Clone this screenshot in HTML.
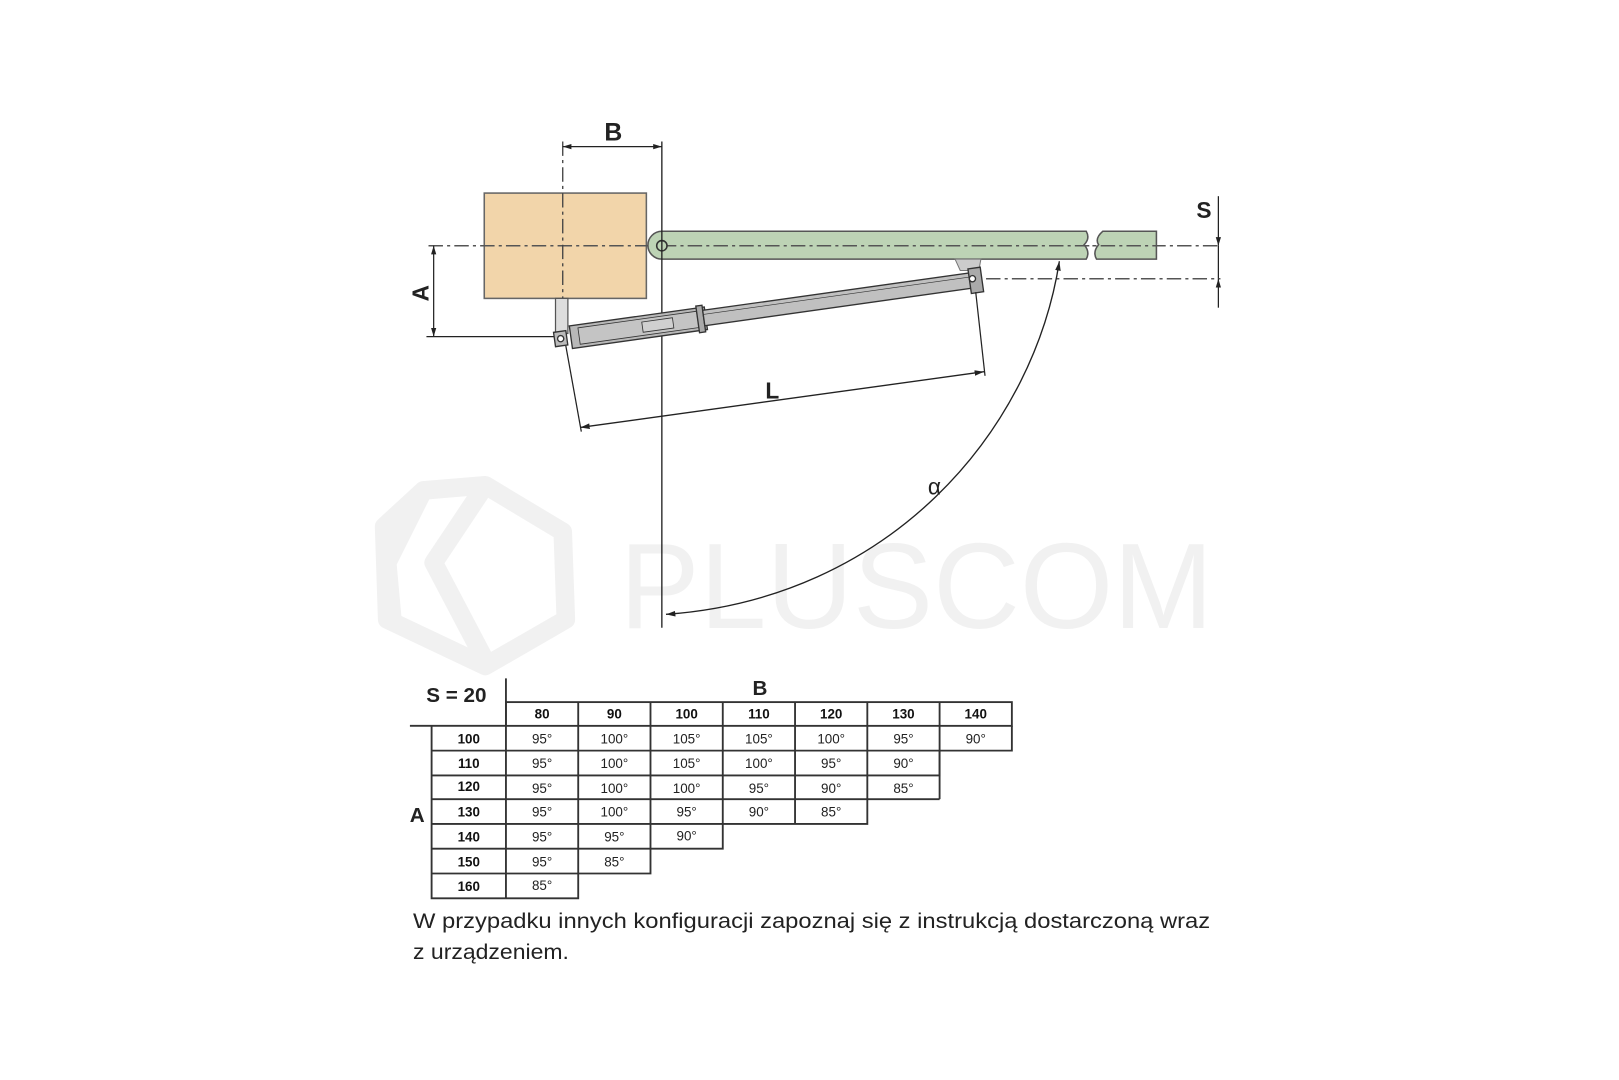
<!DOCTYPE html>
<html><head><meta charset="utf-8"><style>
html,body{margin:0;padding:0;background:#fff;width:1619px;height:1080px;overflow:hidden}
svg{display:block}
text{font-family:"Liberation Sans Narrow","Liberation Sans",sans-serif}
</style></head><body>
<svg width="1619" height="1080" viewBox="0 0 1568 1046" xmlns="http://www.w3.org/2000/svg">
<defs>
<marker id="ar" viewBox="0 0 10 10" refX="10" refY="5" markerWidth="7" markerHeight="7" orient="auto-start-reverse"><path d="M0,2 L10,5 L0,8 z" fill="#222"/></marker>
</defs>
<!-- watermark -->
<g fill="none" stroke="#f1f1f1" stroke-width="18" stroke-linejoin="round">
<path d="M410,475 L470,470 L545,515 L548,600 L470,645 L375,600 L372,510 Z"/>
<path d="M410,475 L375,545 L380,600"/>
<path d="M470,470 L420,545 L470,640"/>
</g>
<text x="600" y="608" font-size="118" fill="#f1f1f1" font-family="Liberation Sans" textLength="575" lengthAdjust="spacingAndGlyphs">PLUSCOM</text>

<!-- box -->
<rect x="469" y="187" width="157" height="102" fill="#f2d5aa" stroke="#666" stroke-width="1.5"/>
<!-- centerlines -->
<line x1="415" y1="238" x2="1180" y2="238" stroke="#555" stroke-width="1.5" stroke-dasharray="14,4,3,4"/>
<line x1="545" y1="137" x2="545" y2="322" stroke="#444" stroke-width="1.3" stroke-dasharray="14,4,3,4"/>
<line x1="955" y1="270" x2="1182" y2="270" stroke="#555" stroke-width="1.5" stroke-dasharray="14,4,3,4"/>
<!-- green leaf -->
<path d="M641,224 L1052,224 Q1056,231 1050,237 Q1056,244 1052,251 L641,251 A13.5,13.5 0 0 1 641,224 Z" fill="#bdd3b5" stroke="#555" stroke-width="1.5"/>
<path d="M1068,224 L1120,224 L1120,251 L1062,251 Q1058,244 1064,237 Q1060,231 1068,224 Z" fill="#bdd3b5" stroke="#555" stroke-width="1.5"/>
<line x1="641" y1="238" x2="1120" y2="238" stroke="#555" stroke-width="1.5" stroke-dasharray="14,4,3,4"/>
<circle cx="641" cy="238" r="5" fill="#bdd3b5" stroke="#333" stroke-width="1.5"/>
<!-- B dimension -->
<line x1="641" y1="137" x2="641" y2="608" stroke="#222" stroke-width="1.3"/>
<line x1="545" y1="142" x2="641" y2="142" stroke="#222" stroke-width="1.2" marker-start="url(#ar)" marker-end="url(#ar)"/>
<text x="594" y="136" font-size="24" font-weight="bold" text-anchor="middle" fill="#222">B</text>
<!-- S dimension -->
<line x1="1180" y1="190" x2="1180" y2="238" stroke="#222" stroke-width="1.2" marker-end="url(#ar)"/>
<line x1="1180" y1="298" x2="1180" y2="270" stroke="#222" stroke-width="1.2" marker-end="url(#ar)"/>
<line x1="1180" y1="238" x2="1180" y2="270" stroke="#222" stroke-width="1.2"/>
<text x="1166" y="211" font-size="22" font-weight="bold" text-anchor="middle" fill="#222">S</text>
<!-- A dimension -->
<line x1="420" y1="238" x2="420" y2="326" stroke="#222" stroke-width="1.2" marker-start="url(#ar)" marker-end="url(#ar)"/>
<line x1="413" y1="326" x2="540" y2="326" stroke="#222" stroke-width="1.2"/>
<text x="0" y="0" font-size="22" font-weight="bold" text-anchor="middle" fill="#222" transform="translate(415,284) rotate(-90)">A</text>
<!-- bracket -->
<rect x="538" y="289" width="12" height="34" fill="#ddd" stroke="#555" stroke-width="1.2"/>
<!-- gate bracket -->
<path d="M925,251 L950,251 L948,262 L930,262 Z" fill="#ccc" stroke="#777"/>
<!-- actuator -->
<g transform="translate(543,328) rotate(-8)" stroke="#333" stroke-width="1.3">
<rect x="-6" y="-7" width="12" height="14" fill="#bbb"/>
<circle cx="0" cy="0" r="3" fill="#fff"/>
<rect x="10" y="-11" width="132" height="22" fill="#b8b8b8"/>
<rect x="18" y="-8" width="116" height="16" fill="#c4c4c4" stroke-width="0.8"/>
<rect x="134" y="-13" width="6" height="26" fill="#aaa"/>
<rect x="140" y="-8" width="263" height="15" fill="#c0c0c0"/>
<line x1="140" y1="-4" x2="403" y2="-4" stroke-width="0.6"/>
<rect x="400" y="-12" width="12" height="24" fill="#aaa"/>
<circle cx="403" cy="-2" r="3" fill="#fff"/>
<rect x="80" y="-5" width="30" height="10" fill="#d0d0d0" stroke-width="0.8"/>
</g>
<!-- L dimension -->
<line x1="548" y1="335" x2="563" y2="418" stroke="#222" stroke-width="1.2"/>
<line x1="945" y1="283" x2="954" y2="364" stroke="#222" stroke-width="1.2"/>
<line x1="562" y1="414" x2="953" y2="360" stroke="#222" stroke-width="1.3" marker-start="url(#ar)" marker-end="url(#ar)"/>
<text x="748" y="386" font-size="22" font-weight="bold" text-anchor="middle" fill="#222">L</text>
<!-- arc -->
<path d="M1026,253 C1000,420 860,580 645,595" fill="none" stroke="#222" stroke-width="1.3" marker-start="url(#ar)" marker-end="url(#ar)"/>
<text x="905" y="479" font-size="22" text-anchor="middle" fill="#222">α</text>

<!-- table -->
<g font-size="13" font-weight="bold" text-anchor="middle" fill="#111">
<text x="442" y="680" font-size="20" fill="#222">S = 20</text>
<text x="736" y="673" font-size="20" fill="#222">B</text>
<text x="404" y="796" font-size="20" fill="#222">A</text>
</g>
<g stroke="#333" stroke-width="1.8" fill="none">
<line x1="490" y1="657" x2="490" y2="870"/>
<line x1="397" y1="703" x2="490" y2="703"/>
<rect x="490" y="680" width="490" height="23"/>
<line x1="560" y1="680" x2="560" y2="703"/><line x1="630" y1="680" x2="630" y2="703"/><line x1="700" y1="680" x2="700" y2="703"/><line x1="770" y1="680" x2="770" y2="703"/><line x1="840" y1="680" x2="840" y2="703"/><line x1="910" y1="680" x2="910" y2="703"/>
<!-- row label column -->
<path d="M418,703 L418,870 L490,870"/>
<line x1="418" y1="727" x2="490" y2="727"/><line x1="418" y1="751" x2="490" y2="751"/><line x1="418" y1="774" x2="490" y2="774"/><line x1="418" y1="798" x2="490" y2="798"/><line x1="418" y1="822" x2="490" y2="822"/><line x1="418" y1="846" x2="490" y2="846"/>
<!-- data rows -->
<path d="M490,727 L980,727 L980,703"/>
<path d="M490,751 L910,751 L910,727"/>
<path d="M490,774 L910,774"/>
<path d="M490,798 L840,798 L840,774"/>
<line x1="910" y1="751" x2="910" y2="774"/>
<path d="M490,822 L700,822 L700,798"/>
<path d="M490,846 L630,846 L630,822"/>
<path d="M490,870 L560,870 L560,846"/>
<!-- verticals -->
<line x1="560" y1="703" x2="560" y2="846"/>
<line x1="630" y1="703" x2="630" y2="822"/>
<line x1="700" y1="703" x2="700" y2="798"/>
<line x1="770" y1="703" x2="770" y2="798"/>
<line x1="840" y1="703" x2="840" y2="774"/>
<line x1="910" y1="703" x2="910" y2="751"/>
</g>
<g font-size="13" font-weight="bold" text-anchor="middle" fill="#111">
<text x="525" y="696">80</text><text x="595" y="696">90</text><text x="665" y="696">100</text><text x="735" y="696">110</text><text x="805" y="696">120</text><text x="875" y="696">130</text><text x="945" y="696">140</text>
<text x="454" y="720">100</text><text x="454" y="744">110</text><text x="454" y="766">120</text><text x="454" y="791">130</text><text x="454" y="815">140</text><text x="454" y="839">150</text><text x="454" y="863">160</text>
</g>
<g font-size="13" text-anchor="middle" fill="#222">
<text x="525" y="720">95°</text><text x="595" y="720">100°</text><text x="665" y="720">105°</text><text x="735" y="720">105°</text><text x="805" y="720">100°</text><text x="875" y="720">95°</text><text x="945" y="720">90°</text>
<text x="525" y="744">95°</text><text x="595" y="744">100°</text><text x="665" y="744">105°</text><text x="735" y="744">100°</text><text x="805" y="744">95°</text><text x="875" y="744">90°</text>
<text x="525" y="768">95°</text><text x="595" y="768">100°</text><text x="665" y="768">100°</text><text x="735" y="768">95°</text><text x="805" y="768">90°</text><text x="875" y="768">85°</text>
<text x="525" y="791">95°</text><text x="595" y="791">100°</text><text x="665" y="791">95°</text><text x="735" y="791">90°</text><text x="805" y="791">85°</text>
<text x="525" y="815">95°</text><text x="595" y="815">95°</text><text x="665" y="814">90°</text>
<text x="525" y="839">95°</text><text x="595" y="839">85°</text>
<text x="525" y="862">85°</text>
</g>
<text x="400" y="899" font-size="21" fill="#222" textLength="772" lengthAdjust="spacingAndGlyphs">W przypadku innych konfiguracji zapoznaj się z instrukcją dostarczoną wraz</text>
<text x="400" y="929" font-size="21" fill="#222" textLength="151" lengthAdjust="spacingAndGlyphs">z urządzeniem.</text>
</svg>
</body></html>
